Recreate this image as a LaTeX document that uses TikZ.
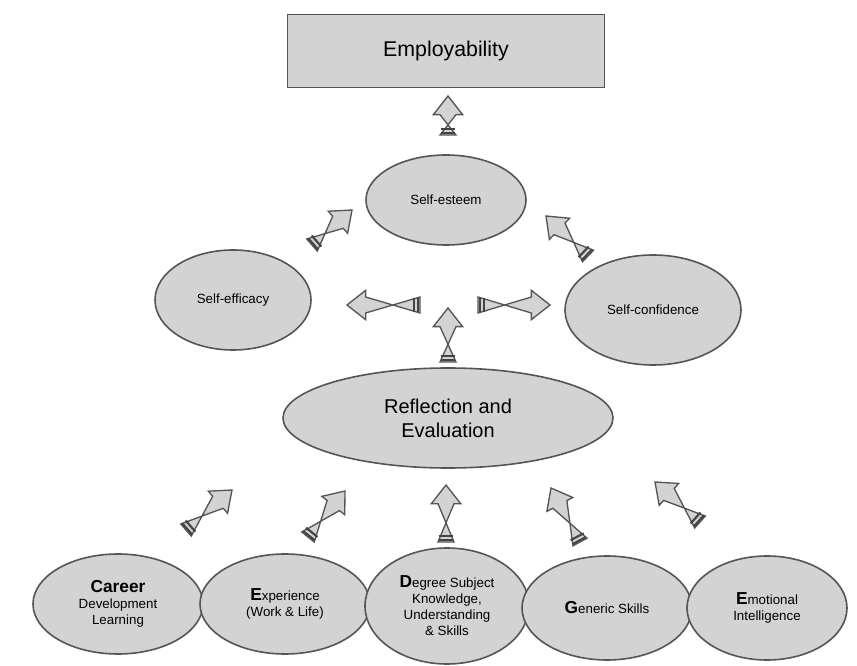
\documentclass[tikz,border=0pt]{standalone}
\usepackage{fontspec}
\setmainfont{Liberation Sans}
\usetikzlibrary{calc}
\definecolor{fillg}{HTML}{D3D3D3}
\definecolor{lineg}{HTML}{555555}
\tikzset{
  elli/.style={ellipse, draw=lineg, fill=fillg, line width=1.2pt, align=center, inner sep=0pt},
  rectbox/.style={rectangle, draw=lineg, fill=fillg, line width=1.2pt},
}
\usetikzlibrary{shapes.geometric}
\newcommand\barrow[2]{%
  \coordinate (H) at ($(#2)!14pt!(#1)$);
  \filldraw[draw=lineg, fill=fillg, line width=1pt, line join=miter]
    ($(#1)!6pt!90:(#2)$) -- ($(H)!6pt!-90:(#2)$) -- ($(H)!11pt!-90:(#2)$) -- (#2)
    -- ($(H)!11pt!90:(#2)$) -- ($(H)!6pt!90:(#2)$) -- ($(#1)!6pt!-90:(#2)$) -- cycle;
  \foreach \t in {1.2pt,4.5pt}{
    \coordinate (P) at ($(#1)!\t!(#2)$);
    \draw[lineg!80!black, line width=1.6pt] ($(P)!5.5pt!90:(#2)$) -- ($(P)!5.5pt!-90:(#2)$);
  }
}
\begin{document}
\begin{tikzpicture}[x=0.75pt,y=-0.75pt]
\useasboundingbox[fill=white] (0,0) rectangle (857,666);
\node[rectbox, minimum width=317*0.75pt, minimum height=73*0.75pt, font=\fontsize{16}{18}\selectfont] (emp) at (446,51) {Employability};
\node[elli, minimum width=160*0.75pt, minimum height=90*0.75pt, font=\fontsize{10}{12}\selectfont] (est) at (446,200) {Self-esteem};
\node[elli, minimum width=156*0.75pt, minimum height=100*0.75pt, font=\fontsize{10}{12}\selectfont] (eff) at (233,300) {Self-efficacy};
\node[elli, minimum width=176*0.75pt, minimum height=110*0.75pt, font=\fontsize{10}{12}\selectfont] (conf) at (653,310) {Self-confidence};
\node[elli, minimum width=330*0.75pt, minimum height=100*0.75pt, font=\fontsize{15}{18}\selectfont] (refl) at (448,418) {Reflection and\\Evaluation};
\node[elli, minimum width=170*0.75pt, minimum height=100*0.75pt, font=\fontsize{10}{12}\selectfont] (car) at (118,604) {{\fontsize{13}{15}\selectfont\bfseries Career}\\Development\\Learning};
\node[elli, minimum width=170*0.75pt, minimum height=100*0.75pt, font=\fontsize{10}{12}\selectfont] (exp) at (285,604) {{\fontsize{13}{15}\selectfont\bfseries E}xperience\\(Work \& Life)};
\node[elli, minimum width=164*0.75pt, minimum height=116*0.75pt, font=\fontsize{10}{12}\selectfont] (deg) at (447,606) {{\fontsize{13}{15}\selectfont\bfseries D}egree Subject\\Knowledge,\\Understanding\\\& Skills};
\node[elli, minimum width=170*0.75pt, minimum height=104*0.75pt, font=\fontsize{10}{12}\selectfont] (gen) at (607,608) {{\fontsize{13}{15}\selectfont\bfseries G}eneric Skills};
\node[elli, minimum width=160*0.75pt, minimum height=104*0.75pt, font=\fontsize{10}{12}\selectfont] (emo) at (767,608) {{\fontsize{13}{15}\selectfont\bfseries E}motional\\Intelligence};
% arrow endpoints
\coordinate (a1s) at (448,135); \coordinate (a1e) at (448,96);
\coordinate (a2s) at (312,245); \coordinate (a2e) at (352,210);
\coordinate (a3s) at (588,256); \coordinate (a3e) at (546,216);
\coordinate (a4s) at (420,305); \coordinate (a4e) at (347,305);
\coordinate (a5s) at (478,305); \coordinate (a5e) at (550,305);
\coordinate (a6s) at (448,362); \coordinate (a6e) at (448,308);
\coordinate (b1s) at (186,530); \coordinate (b1e) at (232,490);
\coordinate (b2s) at (308,537); \coordinate (b2e) at (345,491);
\coordinate (b3s) at (446,542); \coordinate (b3e) at (446,485);
\coordinate (b4s) at (580,542); \coordinate (b4e) at (551,488);
\coordinate (b5s) at (700,522); \coordinate (b5e) at (655,482);
\barrow{a1s}{a1e}\barrow{a2s}{a2e}\barrow{a3s}{a3e}\barrow{a4s}{a4e}
\barrow{a5s}{a5e}\barrow{a6s}{a6e}
\barrow{b1s}{b1e}\barrow{b2s}{b2e}\barrow{b3s}{b3e}\barrow{b4s}{b4e}\barrow{b5s}{b5e}
\end{tikzpicture}
\end{document}
